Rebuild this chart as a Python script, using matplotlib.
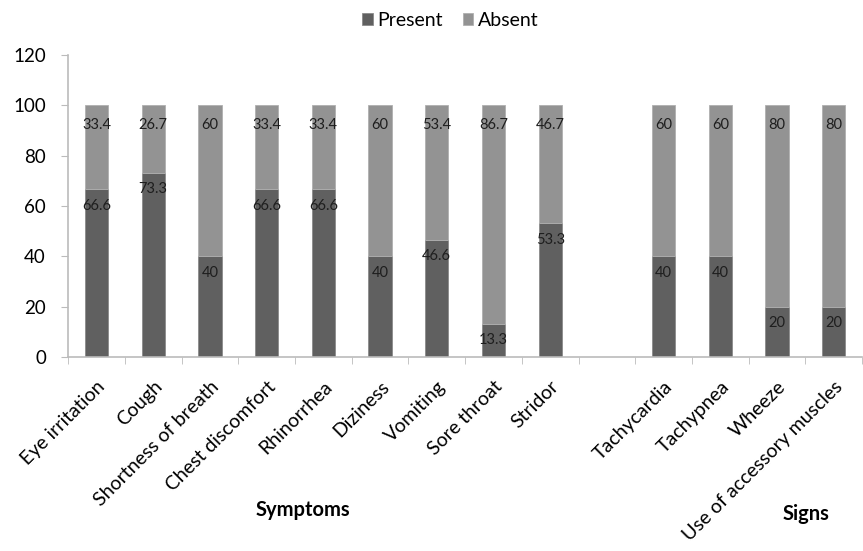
import numpy as np
import matplotlib.pyplot as plt

symptoms = ['Eye irritation', 'Cough', 'Shortness of breath', 'Chest discomfort',
            'Rhinorrhea', 'Diziness', 'Vomiting', 'Sore throat', 'Stridor']
signs = ['Tachycardia', 'Tachypnea', 'Wheeze', 'Use of accessory muscles']

symptoms_present = [66.6, 73.3, 40, 66.6, 66.6, 40, 46.6, 13.3, 53.3]
symptoms_absent = [33.4, 26.7, 60, 33.4, 33.4, 60, 53.4, 86.7, 46.7]
signs_present = [40, 40, 20, 20]
signs_absent = [60, 60, 80, 80]

c_present = '#606060'
c_absent = '#939393'

plt.rcParams['font.family'] = ['Lato', 'DejaVu Sans']

# one empty slot between the two groups
labels = symptoms + [''] + signs
pos = np.array(list(range(len(symptoms))) + list(range(len(symptoms) + 1, len(labels))))
present = symptoms_present + signs_present
absent = symptoms_absent + signs_absent

fig = plt.figure(figsize=(8.63, 5.51), dpi=100)
ax = fig.add_axes([0.079, 0.352, 0.92, 0.548])

w = 0.41
b1 = ax.bar(pos, present, w, color=c_present, edgecolor='#8a8a8a', linewidth=0.6, label='Present')
b2 = ax.bar(pos, absent, w, bottom=present, color=c_absent, edgecolor='#b0b0b0',
            linewidth=0.6, label='Absent')

for x, p, a in zip(pos, present, absent):
    ax.annotate(f'{p:g}', (x, p), xytext=(0, -12), textcoords='offset points',
                ha='center', va='center', fontsize=10.5, color='#1e1e1e')
    ax.annotate(f'{a:g}', (x, p + a), xytext=(0, -14), textcoords='offset points',
                ha='center', va='center', fontsize=10.5, color='#1e1e1e')

ax.set_xlim(-0.5, len(labels) - 0.5)
ax.set_ylim(0, 120)
ax.set_yticks(range(0, 121, 20))
ax.tick_params(axis='y', labelsize=13.5, length=5, color='#bbbbbb', pad=11)

ax.set_xticks(np.arange(len(labels)))
ax.set_xticklabels(labels, rotation=45, ha='right', rotation_mode='anchor', fontsize=14)
ax.tick_params(axis='x', length=0, pad=15)
ax.set_xticks(np.arange(len(labels) + 1) - 0.5, minor=True)
ax.tick_params(axis='x', which='minor', length=5, color='#bbbbbb', direction='out')

for s in ['top', 'right']:
    ax.spines[s].set_visible(False)
for s in ['left', 'bottom']:
    ax.spines[s].set_color('#bbbbbb')
    ax.spines[s].set_linewidth(1.2)

fig.legend(handles=[b1, b2], loc='center', bbox_to_anchor=(0.522, 0.963), ncol=2,
           frameon=False, fontsize=14, handlelength=0.55, handleheight=0.55,
           handletextpad=0.25, columnspacing=1.0)

fig.text(303 / 863, 1 - 510 / 551, 'Symptoms', ha='center', va='center',
         fontsize=14.5, fontweight='bold')
fig.text(806 / 863, 1 - 514 / 551, 'Signs', ha='center', va='center',
         fontsize=14.5, fontweight='bold')

fig.savefig('out.png', dpi=100)
